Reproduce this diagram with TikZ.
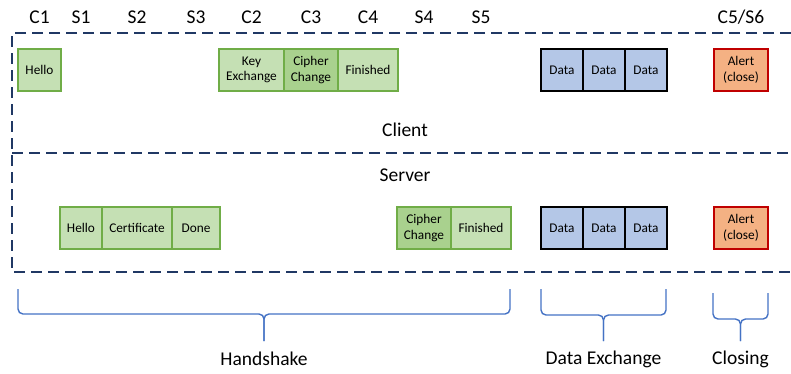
\documentclass[tikz,border=0pt]{standalone}
\usepackage{fontspec}
\setmainfont{Carlito}
\usetikzlibrary{positioning}
\definecolor{hsfill}{HTML}{C5E0B4}
\definecolor{hsdark}{HTML}{A9D18E}
\definecolor{hsline}{HTML}{70AD47}
\definecolor{datafill}{HTML}{B4C7E7}
\definecolor{alertfill}{HTML}{F4B183}
\definecolor{alertline}{HTML}{C00000}
\definecolor{frameblue}{HTML}{203864}
\definecolor{braceblue}{HTML}{4472C4}
\tikzset{
  rec/.style={draw, minimum height=42pt, inner sep=0pt, outer sep=0pt, align=center,
    font=\fontsize{13.3}{15.5}\selectfont},
  hs/.style={rec, fill=hsfill, draw=hsline, line width=1.5pt},
  cipher/.style={hs, fill=hsdark},
  databox/.style={rec, fill=datafill, draw=black, line width=2pt, minimum width=42pt},
  alertbox/.style={rec, fill=alertfill, draw=alertline, line width=2pt, minimum width=54pt},
  msg/.style={font=\fontsize{19.5}{21}\selectfont},
  dashframe/.style={draw=frameblue, line width=2pt, dash pattern=on 11pt off 6pt},
  bracepath/.style={draw=braceblue, line width=1.4pt, rounded corners=5pt}
}
\begin{document}
\begin{tikzpicture}[x=1pt,y=-1pt]
  \useasboundingbox (0,0) rectangle (791,373);
  % client / server frame
  \draw[dashframe] (791,33) -- (12,33) -- (12,272) -- (791,272);
  \draw[dashframe] (12,153) -- (791,153);
  \node[msg] (client) at (405,130) {Client};
  \node[msg] (server) at (405,175) {Server};

  % client messages
  \node[hs, minimum width=43pt] (chello) at (39.5,70) {Hello};
  \node[hs, minimum width=65pt] (ckey) at (251.5,70) {Key\\Exchange};
  \node[cipher, minimum width=54pt, right=0pt of ckey] (cchange) {Cipher\\Change};
  \node[hs, minimum width=60pt, right=0pt of cchange] (cfin) {Finished};
  \node[databox] (cdata1) at (562,70) {Data};
  \node[databox, right=0pt of cdata1] (cdata2) {Data};
  \node[databox, right=0pt of cdata2] (cdata3) {Data};
  \node[alertbox] (calert) at (741,70) {Alert\\(close)};

  % server messages
  \node[hs, minimum width=42pt] (shello) at (81,228) {Hello};
  \node[hs, minimum width=70pt, right=0pt of shello] (scert) {Certificate};
  \node[hs, minimum width=48pt, right=0pt of scert] (sdone) {Done};
  \node[cipher, minimum width=54pt] (schange) at (424,228) {Cipher\\Change};
  \node[hs, minimum width=60pt, right=0pt of schange] (sfin) {Finished};
  \node[databox] (sdata1) at (562,228) {Data};
  \node[databox, right=0pt of sdata1] (sdata2) {Data};
  \node[databox, right=0pt of sdata2] (sdata3) {Data};
  \node[alertbox] (salert) at (741,228) {Alert\\(close)};

  % step labels
  \coordinate (steps) at (0,17);
  \node[msg] (lc1) at (chello |- steps) {C1};
  \node[msg] (ls1) at (shello |- steps) {S1};
  \node[msg] (ls2) at (scert |- steps) {S2};
  \node[msg] (ls3) at (sdone |- steps) {S3};
  \node[msg] (lc2) at (ckey |- steps) {C2};
  \node[msg] (lc3) at (cchange |- steps) {C3};
  \node[msg] (lc4) at (cfin |- steps) {C4};
  \node[msg] (ls4) at (schange |- steps) {S4};
  \node[msg] (ls5) at (sfin |- steps) {S5};
  \node[msg] (lc5) at (calert |- steps) {C5/S6};

  % phases
  \foreach \l/\r/\t/\h in {18/510/289/314, 541/666/289/315, 713/768/293/319} {
    \draw[bracepath] (\l,\t) -- (\l,\h) -- ({(\l+\r)/2},\h) -- ({(\l+\r)/2},341);
    \draw[bracepath] (\r,\t) -- (\r,\h) -- ({(\l+\r)/2},\h) -- ({(\l+\r)/2},341);
  }
  \node[msg] (handshake) at (264,359) {Handshake};
  \node[msg] (exchange) at (603.5,359) {Data Exchange};
  \node[msg] (closing) at (740.5,359) {Closing};
\end{tikzpicture}
\end{document}
